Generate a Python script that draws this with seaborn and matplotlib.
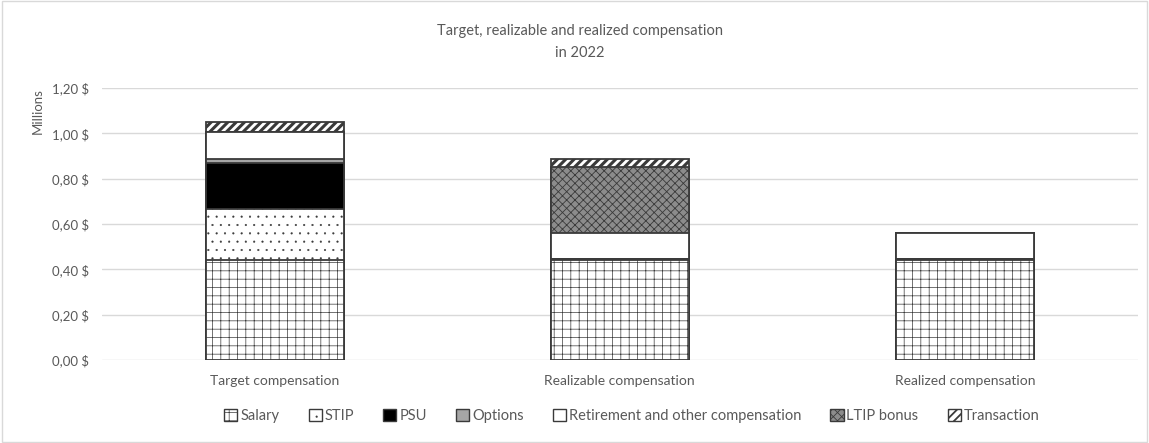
import numpy as np
import pandas as pd
import matplotlib
matplotlib.use("Agg")
import matplotlib.pyplot as plt
from matplotlib.patches import Patch, Rectangle
from matplotlib.ticker import FuncFormatter
import seaborn as sns

categories = ["Target compensation", "Realizable compensation", "Realized compensation"]
components = ["Salary", "STIP", "PSU", "Options",
              "Retirement and other compensation", "LTIP bonus", "Transaction"]

salary = [0.44, 0.44, 0.44]
stip = [0.225, 0.008, 0.008]
psu = [0.205, 0.0, 0.0]
options = [0.018, 0.0, 0.0]
retirement = [0.117, 0.115, 0.113]
ltip_bonus = [0.0, 0.287, 0.0]
transaction = [0.047, 0.037, 0.0]

yticks = [0.0, 0.2, 0.4, 0.6, 0.8, 1.0, 1.2]

# fill / hatch / hatch width for each component
styles = {
    "Salary": ("white", "++", 0.5),
    "STIP": ("white", "..", 0.3),
    "PSU": ("black", "", 0.5),
    "Options": ("#a6a6a6", "", 0.5),
    "Retirement and other compensation": ("white", "", 0.5),
    "LTIP bonus": ("#8c8c8c", "xxxx", 0.6),
    "Transaction": ("white", "////", 2.2),
}

df = pd.DataFrame({
    "category": categories,
    "Salary": salary,
    "STIP": stip,
    "PSU": psu,
    "Options": options,
    "Retirement and other compensation": retirement,
    "LTIP bonus": ltip_bonus,
    "Transaction": transaction,
})
cum = df[components].cumsum(axis=1)
cum["category"] = df["category"]

sns.set_theme(style="white")
plt.rcParams["font.family"] = ["Lato", "DejaVu Sans"]
text_col = "#595959"
edge_col = "#3a3a3a"

fig = plt.figure(figsize=(11.49, 4.43), dpi=100)
ax = fig.add_axes([0.0888, 0.187, 0.9012, 0.614])

# draw cumulative totals from top layer down so each lower layer covers the one above
for comp in reversed(components):
    face, hatch, hlw = styles[comp]
    sns.barplot(data=cum, x="category", y=comp, order=categories, ax=ax,
                color=face, width=0.4, edgecolor=edge_col, linewidth=1.3,
                hatch=hatch, saturation=1, errorbar=None)
    for p in ax.patches[-len(categories):]:
        p.set_hatch_linewidth(hlw)

ax.set_ylim(0, 1.2)
ax.set_xlim(-0.5, 2.5)
ax.set_yticks(yticks)
ax.yaxis.set_major_formatter(FuncFormatter(lambda v, p: f"{v:.2f}".replace(".", ",") + " $"))
ax.grid(axis="y", color="#d9d9d9", linewidth=1)
ax.set_axisbelow(True)
for s in ax.spines.values():
    s.set_visible(False)
ax.tick_params(axis="both", length=0, colors=text_col, labelsize=9.5)
ax.tick_params(axis="y", pad=36)
for lab in ax.get_yticklabels():
    lab.set_horizontalalignment("left")
ax.tick_params(axis="x", pad=11, labelsize=10)
ax.set_xlabel("")
ax.set_ylabel("")

fig.text(0.033, 0.80, "Millions", rotation=90, color=text_col, fontsize=9.5,
         ha="center", va="top")
fig.text(0.505, 0.905, "Target, realizable and realized compensation\nin 2022",
         ha="center", va="center", color=text_col, fontsize=10.5, linespacing=1.8)

handles = [Patch(facecolor=styles[c][0], hatch=styles[c][1], edgecolor=edge_col,
                 linewidth=1, label=c) for c in components]
leg = fig.legend(handles=handles, loc="center", bbox_to_anchor=(0.55, 0.06), ncol=7,
                 frameon=False, handlelength=0.9, handleheight=0.9, handletextpad=0.2,
                 columnspacing=2.0, fontsize=10.5, labelcolor=text_col)
for h, c in zip(leg.get_patches(), components):
    h.set_hatch_linewidth(min(styles[c][2], 1.3))

fig.patches.append(Rectangle((0.002, 0.003), 0.996, 0.994, transform=fig.transFigure,
                             fill=False, edgecolor="#d9d9d9", linewidth=1))

fig.savefig("out.png", dpi=100)
